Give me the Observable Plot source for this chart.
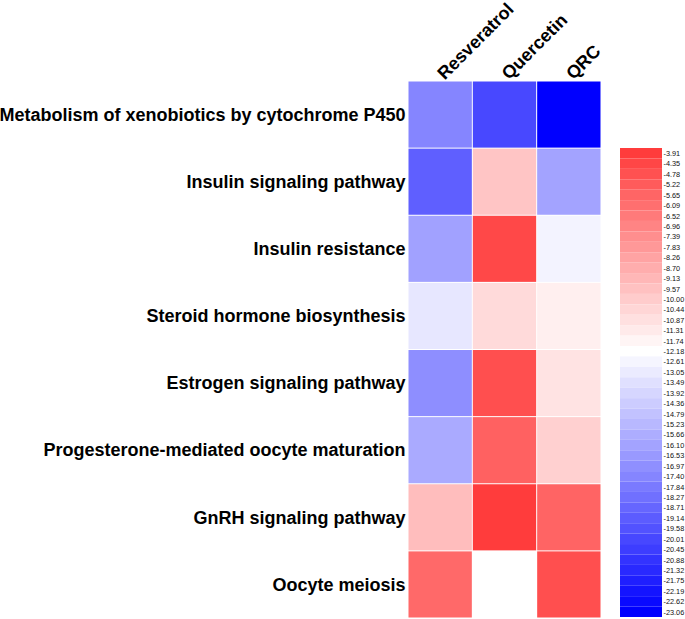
<!DOCTYPE html>
<html><head><meta charset="utf-8">
<script src="https://cdn.jsdelivr.net/npm/d3@7"></script>
<script src="https://cdn.jsdelivr.net/npm/@observablehq/plot@0.6"></script>
<style>
body{margin:0;background:#fff;}
#wrap{position:relative;width:685px;height:619px;background:#fff;font-family:"Liberation Sans",Arial,sans-serif;overflow:hidden;}
#wrap svg{position:absolute;overflow:visible;max-width:none !important;}
</style></head><body><div id="wrap"></div>
<script>
const samples = ["Resveratrol", "Quercetin", "QRC"];
const pathways = [
  "Metabolism of xenobiotics by cytochrome P450",
  "Insulin signaling pathway",
  "Insulin resistance",
  "Steroid hormone biosynthesis",
  "Estrogen signaling pathway",
  "Progesterone-mediated oocyte maturation",
  "GnRH signaling pathway",
  "Oocyte meiosis"
];
const resveratrol = [-17.4, -19.0, -16.2, -13.2, -17.0, -15.8, -9.4, -5.8];
const quercetin   = [-20.0, -9.7, -4.4, -10.6, -4.7, -5.5, -3.91, null];
const qrc         = [-23.06, -16.1, -12.7, -11.5, -11.0, -10.2, -5.6, -4.7];
const legendTicks = ["-3.91","-4.35","-4.78","-5.22","-5.65","-6.09","-6.52","-6.96","-7.39","-7.83","-8.26","-8.70","-9.13","-9.57","-10.00","-10.44","-10.87","-11.31","-11.74","-12.18","-12.61","-13.05","-13.49","-13.92","-14.36","-14.79","-15.23","-15.66","-16.10","-16.53","-16.97","-17.40","-17.84","-18.27","-18.71","-19.14","-19.58","-20.01","-20.45","-20.88","-21.32","-21.75","-22.19","-22.62","-23.06"];

const series = [resveratrol, quercetin, qrc];
const table = [];
pathways.forEach((p, i) => samples.forEach((s, j) => table.push({pathway: p, sample: s, value: series[j][i]})));

const colorOpts = {type: "linear", domain: [-23.06, -12.18, -3.91], range: ["#0000ff", "#ffffff", "#ff3c3c"], interpolate: "rgb"};

const main = Plot.plot({
  width: 685, height: 619,
  marginLeft: 408, marginRight: 84, marginTop: 81, marginBottom: 1,
  style: {fontFamily: "'Liberation Sans', Arial, sans-serif", background: "transparent"},
  x: {domain: samples, padding: 0, round: false, axis: null, label: null},
  y: {domain: pathways, padding: 0, round: false, axis: null, label: null},
  color: colorOpts,
  marks: [
    Plot.cell(table, {x: "sample", y: "pathway", fill: "value", inset: 0.5}),
    Plot.axisY({anchor: "left", label: null, tickSize: 0, tickPadding: 3, fontSize: 18, fontWeight: "bold", fill: "#000"}),
    Plot.axisX({anchor: "top", label: null, tickSize: 0, tickPadding: 5, tickRotate: -45, fontSize: 18, fontWeight: "bold", fill: "#000"})
  ]
});
main.style.left = "0px"; main.style.top = "0px";

const legend = Plot.plot({
  width: 65, height: 469,
  marginLeft: 0, marginRight: 23, marginTop: 0, marginBottom: 0,
  style: {fontFamily: "'Liberation Sans', Arial, sans-serif", background: "transparent"},
  y: {domain: legendTicks, padding: 0, round: false, axis: null, label: null},
  color: colorOpts,
  marks: [
    Plot.cell(legendTicks, {y: d => d, fill: d => +d}),
    Plot.axisY({anchor: "right", label: null, tickSize: 0, tickPadding: 1, fontSize: 7.3, fill: "#111"})
  ]
});
legend.style.left = "620px"; legend.style.top = "148px";
legend.style.width = "65px"; legend.style.height = "469px";

const wrap = document.getElementById("wrap");
wrap.appendChild(main);
wrap.appendChild(legend);
</script></body></html>
